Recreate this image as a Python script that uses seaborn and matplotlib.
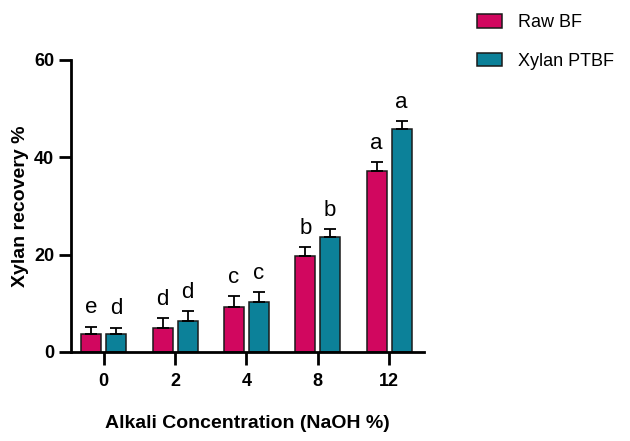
import matplotlib
matplotlib.use("Agg")
import matplotlib.pyplot as plt
import seaborn as sns
import pandas as pd
import numpy as np

# ---- data ----
categories = ["0", "2", "4", "8", "12"]
series_names = ["Raw BF", "Xylan PTBF"]
raw_bf = [3.8, 4.9, 9.2, 19.8, 37.2]
raw_bf_err = [1.4, 2.1, 2.3, 1.8, 1.8]
xylan_ptbf = [3.8, 6.4, 10.3, 23.6, 45.8]
xylan_ptbf_err = [1.2, 2.0, 2.0, 1.6, 1.6]
raw_bf_letters = ["e", "d", "c", "b", "a"]
xylan_ptbf_letters = ["d", "d", "c", "b", "a"]
y_ticks = [0, 20, 40, 60]

colors = ["#D1075F", "#0C8199"]

sns.set_theme(style="ticks")
plt.rcParams["font.family"] = ["Liberation Sans", "DejaVu Sans"]
plt.rcParams.update({"text.color": "black", "axes.labelcolor": "black",
                     "xtick.color": "black", "ytick.color": "black"})

df = pd.DataFrame({
    "conc": categories * 2,
    "value": raw_bf + xylan_ptbf,
    "series": [series_names[0]] * len(categories) + [series_names[1]] * len(categories),
})

fig = plt.figure(figsize=(6.3, 4.41), dpi=100)
ax = fig.add_axes([71/630, 1 - 352/441, (424 - 71)/630, (352 - 60)/441])

sns.barplot(data=df, x="conc", y="value", hue="series", order=categories,
            hue_order=series_names, palette=colors, saturation=1, width=0.7, gap=0.2,
            edgecolor="#1a1a1a", linewidth=1.1, errorbar=None, ax=ax)

errs = [raw_bf_err, xylan_ptbf_err]
letters = [raw_bf_letters, xylan_ptbf_letters]
for cont, err, lets in zip(ax.containers, errs, letters):
    for bar, e, l in zip(cont, err, lets):
        xc = bar.get_x() + bar.get_width() / 2
        h = bar.get_height()
        ax.errorbar(xc, h, yerr=[[0], [e]], fmt="none", ecolor="black",
                    elinewidth=1.3, capsize=4, capthick=1.3, zorder=1)
        ax.annotate(l, (xc, h + e), xytext=(0, 6), textcoords="offset points",
                    ha="center", va="bottom", fontsize=16, color="black")

ax.set_ylim(0, 60)
ax.set_xlim(-0.46, 4.49)
ax.set_yticks(y_ticks)
sns.despine(ax=ax)
for s in ["left", "bottom"]:
    ax.spines[s].set_linewidth(2)
    ax.spines[s].set_color("black")
ax.tick_params(axis="both", width=2, length=9, color="black", labelcolor="black", labelsize=13)
ax.tick_params(axis="y", pad=3)
ax.tick_params(axis="x", pad=6)
for t in ax.get_xticklabels() + ax.get_yticklabels():
    t.set_fontweight("bold")

ax.set_xlabel("Alkali Concentration (NaOH %)", fontsize=14, fontweight="bold", labelpad=18, color="black")
ax.set_ylabel("Xylan recovery %", fontsize=14, fontweight="bold", labelpad=4, color="black")

sns.move_legend(ax, "upper left", bbox_to_anchor=(461/630, 1 + 2/441),
                bbox_transform=fig.transFigure, frameon=False, title=None,
                fontsize=13, handlelength=1.35, handleheight=0.75,
                handletextpad=0.9, labelspacing=1.2)
for t in ax.get_legend().get_texts():
    t.set_color("black")

fig.savefig("out.png", dpi=100)
